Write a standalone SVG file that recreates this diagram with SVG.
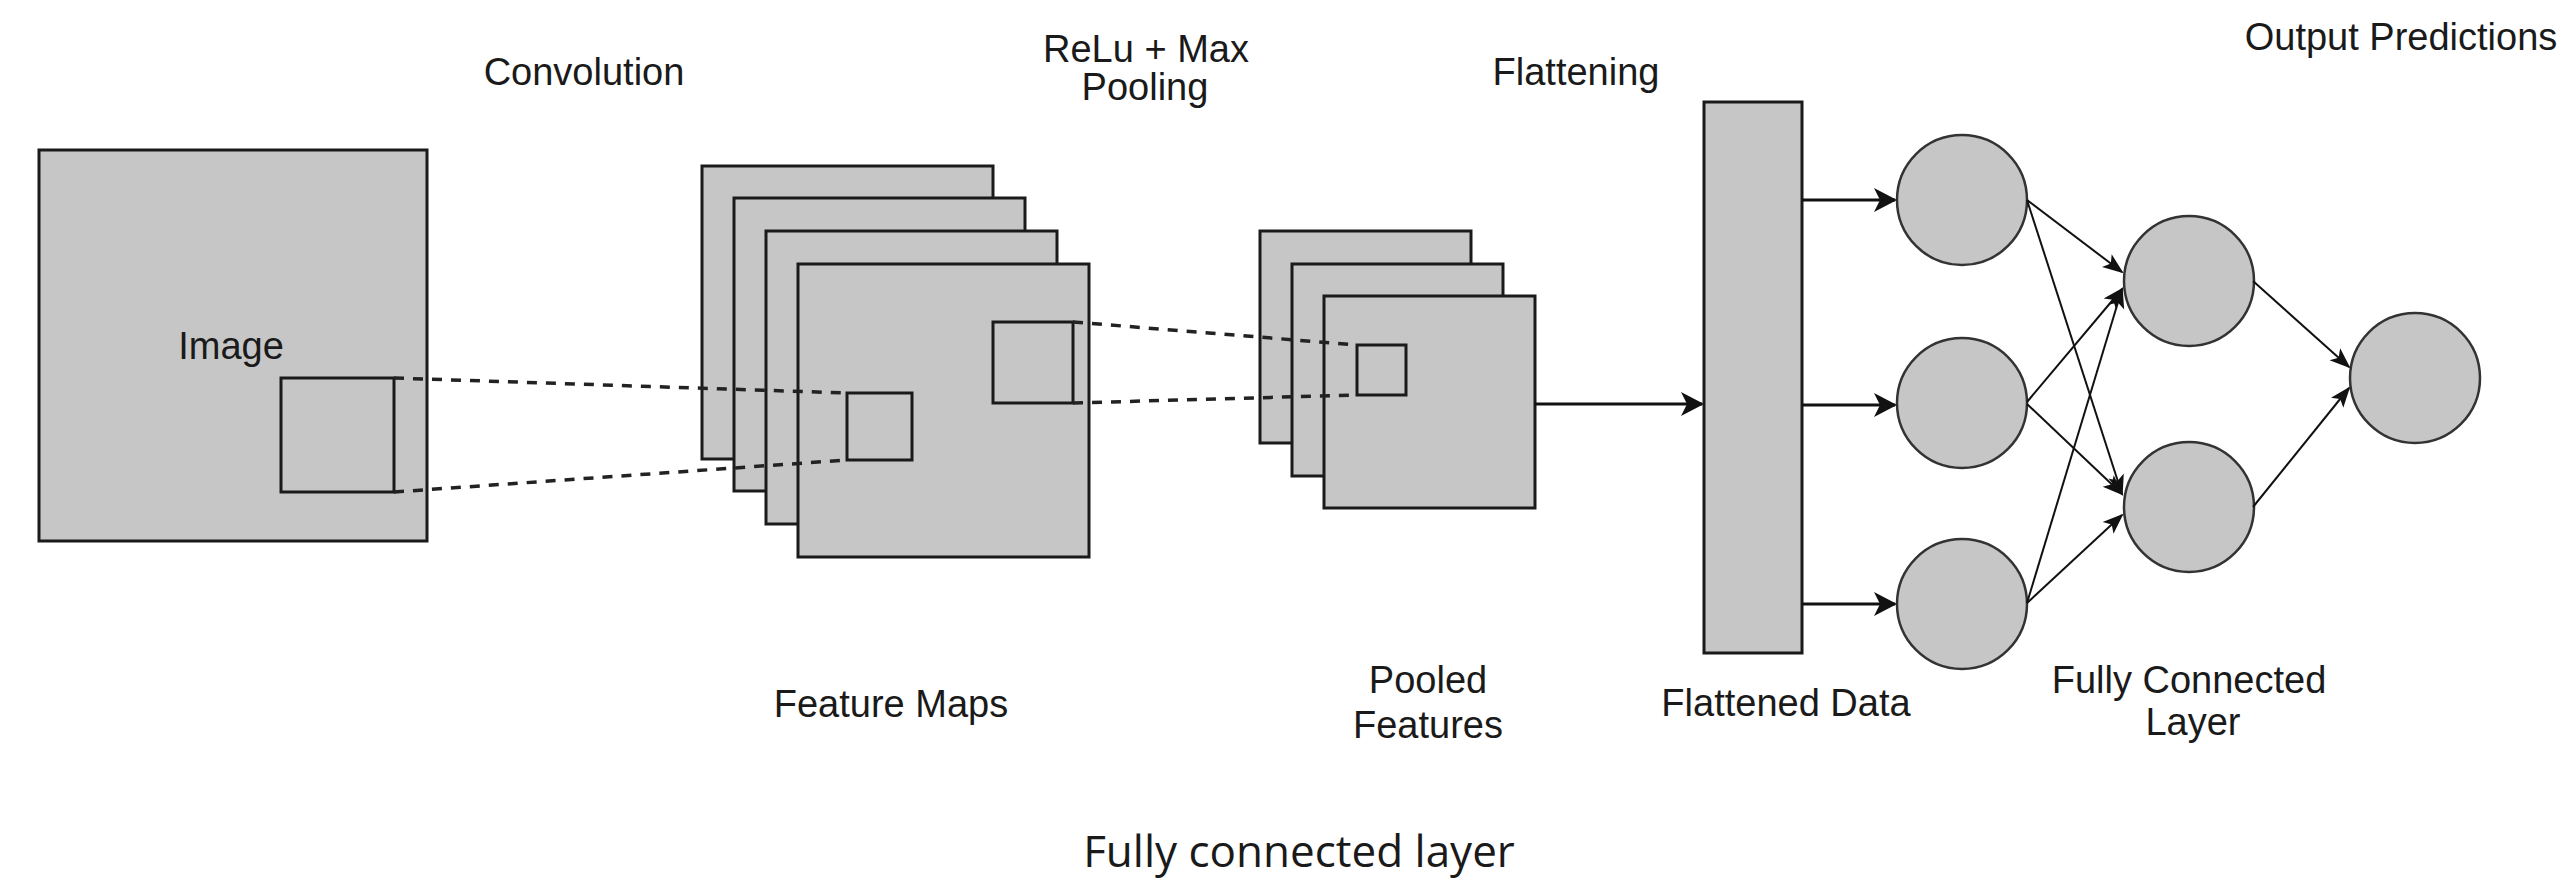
<svg xmlns="http://www.w3.org/2000/svg" width="2571" height="882" viewBox="0 0 2571 882">
<defs>
<style>
.box{fill:#c6c6c6;stroke:#1a1a1a;stroke-width:3}
.win{fill:none;stroke:#1a1a1a;stroke-width:3}
.node{fill:#c6c6c6;stroke:#333;stroke-width:2.5}
.lbl{font-family:"Liberation Sans",Arial,sans-serif;font-size:38px;fill:#1a1a1a;text-anchor:middle}
.cap{font-family:"Open Sans","Noto Sans",sans-serif;font-size:44px;fill:#1a1a1a;text-anchor:middle}
.dash{fill:none;stroke:#222;stroke-width:3.5;stroke-dasharray:10 9}
.big{fill:none;stroke:#111;stroke-width:3;marker-end:url(#ahBig)}
.thin{fill:none;stroke:#111;stroke-width:2;marker-end:url(#ahThin)}
</style>
<marker id="ahBig" markerUnits="userSpaceOnUse" markerWidth="24" markerHeight="26" viewBox="0 0 24 26" refX="21" refY="13" orient="auto"><path d="M0,1 L23,13 L0,25 L6,13 Z" fill="#111"/></marker>
<marker id="ahThin" markerUnits="userSpaceOnUse" markerWidth="22" markerHeight="18" viewBox="0 0 22 18" refX="19" refY="9" orient="auto"><path d="M0,1 L21,9 L0,17 L5,9 Z" fill="#111"/></marker>
</defs>
<rect width="2571" height="882" fill="#fff"/>

<g id="image">
<rect class="box" x="39" y="150" width="388" height="391"/>
<rect class="win" x="281" y="378" width="113" height="114"/>
<text class="lbl" x="231" y="359">Image</text>
</g>

<g id="feature-maps">
<rect class="box" x="702" y="166" width="291" height="293"/>
<rect class="box" x="734" y="198" width="291" height="293"/>
<rect class="box" x="766" y="231" width="291" height="293"/>
<rect class="box" x="798" y="264" width="291" height="293"/>
<rect class="win" x="847" y="393" width="65" height="67"/>
<rect class="win" x="993" y="322" width="80" height="81"/>
<text class="lbl" x="891" y="717">Feature Maps</text>
</g>

<g id="pooled-features">
<rect class="box" x="1260" y="231" width="211" height="212"/>
<rect class="box" x="1292" y="264" width="211" height="212"/>
<rect class="box" x="1324" y="296" width="211" height="212"/>
<rect class="win" x="1357" y="345" width="49" height="50"/>
<text class="lbl" x="1428" y="693">Pooled</text>
<text class="lbl" x="1428" y="738">Features</text>
</g>

<g id="flattened-data">
<rect class="box" x="1704" y="102" width="98" height="551"/>
<text class="lbl" x="1786" y="716">Flattened Data</text>
</g>

<g id="fc-layer">
<circle id="n1" class="node" cx="1962" cy="200" r="65"/>
<circle id="n2" class="node" cx="1962" cy="403" r="65"/>
<circle id="n3" class="node" cx="1962" cy="604" r="65"/>
<circle id="n4" class="node" cx="2189" cy="281" r="65"/>
<circle id="n5" class="node" cx="2189" cy="507" r="65"/>
<text class="lbl" x="2189" y="693">Fully Connected</text>
<text class="lbl" x="2193" y="735">Layer</text>
</g>

<g id="output">
<circle id="n6" class="node" cx="2415" cy="378" r="65"/>
</g>

<g id="stage-labels">
<text class="lbl" x="584" y="85">Convolution</text>
<text class="lbl" x="1146" y="62">ReLu + Max</text>
<text class="lbl" x="1145" y="100">Pooling</text>
<text class="lbl" x="1576" y="85">Flattening</text>
<text class="lbl" x="2401" y="50">Output Predictions</text>
</g>

<g id="connectors">
<line class="dash" x1="394" y1="378" x2="847" y2="393"/>
<line class="dash" x1="394" y1="492" x2="847" y2="460"/>
<line class="dash" x1="1073" y1="322" x2="1357" y2="345"/>
<line class="dash" x1="1073" y1="403" x2="1357" y2="395"/>
<line class="big" x1="1535" y1="404" x2="1702" y2="404"/>
<line class="big" x1="1802" y1="200" x2="1895" y2="200"/>
<line class="big" x1="1802" y1="405" x2="1895" y2="405"/>
<line class="big" x1="1802" y1="604" x2="1895" y2="604"/>
<line class="thin" x1="2027" y1="200" x2="2122" y2="272"/>
<line class="thin" x1="2027" y1="200" x2="2122" y2="494"/>
<line class="thin" x1="2027" y1="402" x2="2122" y2="289"/>
<line class="thin" x1="2027" y1="404" x2="2122" y2="494"/>
<line class="thin" x1="2027" y1="603" x2="2122" y2="289"/>
<line class="thin" x1="2027" y1="603" x2="2122" y2="515"/>
<line class="thin" x1="2253" y1="281" x2="2349" y2="367"/>
<line class="thin" x1="2253" y1="507" x2="2349" y2="388"/>
</g>

<text class="cap" x="1299" y="867">Fully connected layer</text>
</svg>
